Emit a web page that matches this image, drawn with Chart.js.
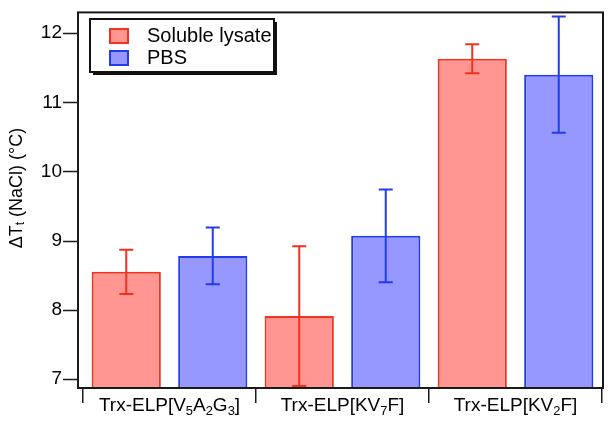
<!DOCTYPE html>
<html>
<head>
<meta charset="utf-8">
<script src="https://cdn.jsdelivr.net/npm/chart.js@4.4.1/dist/chart.umd.min.js"></script>
<style>
  html, body { margin: 0; padding: 0; background: #fff; }
  #wrap { width: 612px; height: 427px; }
</style>
</head>
<body>
<div id="wrap"><canvas id="myChart"></canvas></div>
<script>
// values
const categories = ["Trx-ELP[V₅A₂G₃]", "Trx-ELP[KV₇F]", "Trx-ELP[KV₂F]"];
const seriesNames = ["Soluble lysate", "PBS"];
const lysateVals = [8.55, 7.91, 11.63];
const lysateErr = [0.32, 1.01, 0.21];
const pbsVals = [8.78, 9.07, 11.40];
const pbsErr = [0.41, 0.67, 0.84];
const yTicks = [7, 8, 9, 10, 11, 12];
const yTitle = "ΔTₜ (NaCl) (°C)";

const FONT = "'Liberation Sans', Arial, Helvetica, sans-serif";
const FS = 19;

// draws text where unicode subscript chars are drawn as small lowered glyphs
const subMap = {"₀":"0","₁":"1","₂":"2","₃":"3","₄":"4","₅":"5","₆":"6","₇":"7","₈":"8","₉":"9","ₜ":"t"};
function splitRuns(str) {
  const runs = [];
  for (const ch of str) {
    const sub = ch in subMap;
    const c = sub ? subMap[ch] : ch;
    if (runs.length && runs[runs.length - 1].sub === sub) runs[runs.length - 1].text += c;
    else runs.push({text: c, sub: sub});
  }
  return runs;
}
function richWidth(ctx, runs, size) {
  let w = 0;
  runs.forEach(r => {
    ctx.font = (r.sub ? size * 0.68 : size) + "px " + FONT;
    w += ctx.measureText(r.text).width;
  });
  return w;
}
function drawRich(ctx, str, cx, y, size) {
  const runs = splitRuns(str);
  let x = cx - richWidth(ctx, runs, size) / 2;
  ctx.textAlign = "left";
  runs.forEach(r => {
    ctx.font = (r.sub ? size * 0.68 : size) + "px " + FONT;
    ctx.fillText(r.text, x, r.sub ? y + size * 0.2 : y);
    x += ctx.measureText(r.text).width;
  });
}

const errors = [lysateErr, pbsErr];

const extrasPlugin = {
  id: "extras",
  afterDatasetsDraw(chart) {
    const ctx = chart.ctx;
    const y = chart.scales.y;
    // error bars
    chart.data.datasets.forEach((ds, i) => {
      const meta = chart.getDatasetMeta(i);
      ctx.save();
      ctx.strokeStyle = ds.borderColor;
      ctx.lineWidth = 2;
      meta.data.forEach((bar, j) => {
        const v = ds.data[j], e = errors[i][j];
        const top = y.getPixelForValue(v + e);
        const bot = y.getPixelForValue(v - e);
        ctx.beginPath();
        ctx.moveTo(bar.x, top); ctx.lineTo(bar.x, bot);
        ctx.moveTo(bar.x - 7, top); ctx.lineTo(bar.x + 7, top);
        ctx.moveTo(bar.x - 7, bot); ctx.lineTo(bar.x + 7, bot);
        ctx.stroke();
      });
      ctx.restore();
    });
  },
  afterDraw(chart) {
    const ctx = chart.ctx;
    const a = chart.chartArea;
    const y = chart.scales.y;
    const x = chart.scales.x;
    const fl = a.left - 5;
    ctx.save();
    // frame
    ctx.strokeStyle = "#1a1a1a";
    ctx.lineWidth = 2;
    ctx.strokeRect(fl, a.top, a.right + 1 - fl, a.bottom - a.top);
    // y tick marks
    ctx.lineWidth = 1.5;
    ctx.beginPath();
    yTicks.forEach(t => {
      const py = Math.round(y.getPixelForValue(t)) + 0.5;
      ctx.moveTo(fl - 15, py); ctx.lineTo(fl, py);
    });
    ctx.stroke();
    // category labels
    ctx.fillStyle = "#000";
    ctx.textBaseline = "alphabetic";
    categories.forEach((c, i) => drawRich(ctx, c, x.getPixelForValue(i), 411, FS));
    // y title
    ctx.save();
    ctx.translate(17, 188);
    ctx.rotate(-Math.PI / 2);
    ctx.textBaseline = "middle";
    drawRich(ctx, yTitle, 0, 0, FS - 1);
    ctx.restore();
    // legend
    const lx = 90, ly = 19, lw = 184, lh = 53;
    ctx.fillStyle = "#111";
    ctx.fillRect(lx + 3, ly + 3, lw, lh);
    ctx.fillStyle = "#fff";
    ctx.fillRect(lx, ly, lw, lh);
    ctx.strokeStyle = "#111";
    ctx.lineWidth = 2;
    ctx.strokeRect(lx, ly, lw, lh);
    chart.data.datasets.forEach((ds, i) => {
      const sy = ly + 10 + i * 22;
      ctx.fillStyle = ds.backgroundColor;
      ctx.fillRect(lx + 20, sy, 18, 14);
      ctx.strokeStyle = ds.borderColor;
      ctx.lineWidth = 2;
      ctx.strokeRect(lx + 20, sy, 18, 14);
      ctx.fillStyle = "#000";
      ctx.font = (FS + 1) + "px " + FONT;
      ctx.textAlign = "left";
      ctx.textBaseline = "middle";
      ctx.fillText(ds.label, lx + 57, sy + 7);
    });
    ctx.restore();
  }
};

const data = {
  labels: categories,
  datasets: [
    {
      label: seriesNames[0],
      data: lysateVals,
      backgroundColor: "rgb(255, 150, 145)",
      borderColor: "rgb(240, 50, 30)",
      borderWidth: 2,
    },
    {
      label: seriesNames[1],
      data: pbsVals,
      backgroundColor: "rgb(150, 152, 255)",
      borderColor: "rgb(35, 60, 235)",
      borderWidth: 2,
    },
  ],
};

const config = {
  type: "bar",
  data: data,
  options: {
    responsive: false,
    animation: false,
    events: [],
    categoryPercentage: 1.0,
    barPercentage: 0.8,
    layout: { padding: { top: 7, right: 10, left: 0, bottom: 0 } },
    plugins: { legend: { display: false }, tooltip: { enabled: false } },
    scales: {
      x: {
        grid: { offset: true, drawOnChartArea: false, tickLength: 15, color: "#1a1a1a", lineWidth: 1.5 },
        border: { display: false },
        ticks: { display: false },
        afterFit: (s) => { s.height = 39; },
      },
      y: {
        min: 6.87,
        max: 12.3,
        grid: { drawOnChartArea: false, tickLength: 20, color: "rgba(0,0,0,0)" },
        border: { display: false },
        ticks: { color: "#000", font: { family: FONT, size: FS }, padding: 1 },
        afterBuildTicks: (s) => { s.ticks = yTicks.map(v => ({ value: v })); },
        afterFit: (s) => { s.width = 83; },
      },
    },
  },
  plugins: [extrasPlugin],
};

const canvas = document.getElementById("myChart");
canvas.width = 612;
canvas.height = 427;
var myChart = new Chart(canvas, config);
</script>
</body>
</html>
